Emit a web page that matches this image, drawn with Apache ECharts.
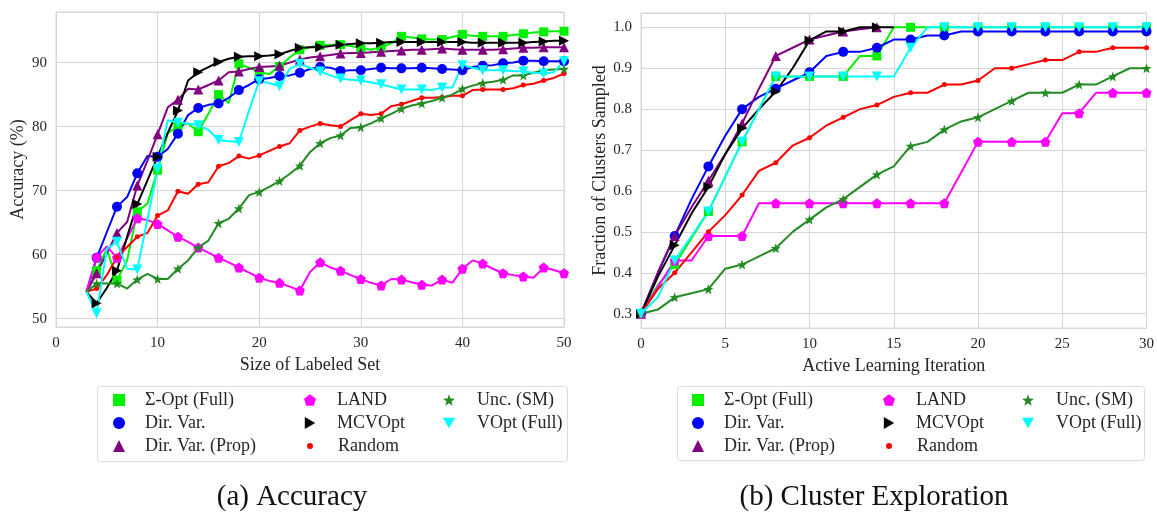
<!DOCTYPE html>
<html lang="en">
<head>
<meta charset="UTF-8">
<title>Accuracy and Cluster Exploration</title>
<style>
  html, body { margin: 0; padding: 0; background: #fff; }
  #main { width: 1157px; height: 512px; }
</style>
</head>
<body>
<div id="main"></div>
<script src="https://cdn.jsdelivr.net/npm/echarts@6/dist/echarts.min.js"></script>
<script>
// (a) accuracy vs size of labeled set
var sizeX = [3, 4, 5, 6, 7, 8, 9, 10, 11, 12, 13, 14, 15, 16, 17, 18, 19, 20, 21, 22, 23, 24, 25, 26,
  27, 28, 29, 30, 31, 32, 33, 34, 35, 36, 37, 38, 39, 40, 41, 42, 43, 44, 45, 46, 47, 48, 49, 50];
var sigmaAcc = [54.2, 57.5, 60.9, 56.0, 59.1, 66.7, 68.0, 73.2, 79.0, 80.0, 80.5, 79.2, 82.0, 85.0, 83.7, 89.8,
  89.2, 88.5, 88.2, 89.4, 90.8, 92.0, 92.4, 92.7, 92.8, 92.8, 92.6, 92.3, 92.0, 92.4, 93.0, 94.1,
  93.9, 93.7, 93.6, 93.6, 94.0, 94.4, 94.2, 94.1, 94.1, 94.1, 94.3, 94.5, 94.7, 94.8, 94.9, 94.9];
var dirVarAcc = [54.2, 59.5, 63.5, 67.5, 69.0, 72.7, 75.4, 75.3, 76.5, 78.9, 81.8, 82.9, 83.4, 83.6, 84.5, 85.7,
  86.5, 87.4, 87.6, 87.9, 88.0, 88.4, 89.0, 89.3, 89.2, 88.7, 88.8, 88.8, 89.0, 89.2, 89.1, 89.1,
  89.1, 89.2, 89.1, 89.0, 88.9, 88.8, 89.3, 89.5, 89.6, 89.9, 90.0, 90.3, 90.3, 90.2, 90.2, 90.2];
var dirVarPropAcc = [54.2, 57.1, 60.2, 63.4, 65.1, 70.8, 74.7, 78.8, 83.0, 84.2, 85.9, 85.8, 86.5, 87.2, 88.5, 88.6,
  89.0, 89.3, 89.4, 89.5, 90.0, 90.5, 90.8, 91.0, 91.2, 91.4, 91.5, 91.5, 91.6, 91.7, 91.8, 91.9,
  92.0, 92.0, 92.1, 92.2, 92.1, 92.0, 92.0, 92.0, 92.0, 92.1, 92.2, 92.3, 92.3, 92.4, 92.4, 92.4];
var landAcc = [54.2, 59.6, 61.3, 59.5, 62.5, 65.7, 65.4, 64.8, 63.8, 62.8, 62.0, 61.1, 60.3, 59.5, 58.8, 58.0,
  57.2, 56.4, 55.9, 55.6, 55.0, 54.4, 57.3, 58.8, 58.0, 57.5, 56.8, 56.2, 55.6, 55.2, 56.2, 56.1,
  55.7, 55.3, 55.2, 56.1, 55.6, 57.8, 59.1, 58.6, 57.8, 57.1, 56.8, 56.6, 56.4, 58.0, 57.6, 57.1];
var mcvAcc = [54.2, 52.4, 54.8, 57.5, 62.8, 67.9, 71.6, 75.3, 79.0, 82.5, 87.2, 88.5, 89.3, 90.1, 90.6, 90.9,
  91.0, 91.0, 91.1, 91.3, 91.8, 92.3, 92.4, 92.4, 92.6, 92.8, 92.9, 93.0, 93.0, 93.1, 93.2, 93.2,
  93.2, 93.2, 93.2, 93.2, 93.2, 93.2, 93.1, 93.1, 93.1, 93.1, 93.1, 93.1, 93.2, 93.3, 93.4, 93.4];
var randomAcc = [54.2, 54.7, 56.8, 59.6, 61.2, 62.8, 63.4, 66.1, 66.9, 69.9, 69.5, 71.0, 71.3, 73.8, 74.3, 75.4,
  75.0, 75.5, 76.2, 76.9, 77.4, 79.4, 80.0, 80.5, 80.2, 80.0, 81.0, 82.0, 81.8, 82.0, 83.2, 83.5,
  84.0, 84.5, 84.5, 84.6, 84.8, 84.8, 85.7, 85.8, 85.8, 85.8, 86.0, 86.5, 86.7, 87.2, 87.6, 88.3];
var uncAcc = [54.2, 55.5, 55.5, 55.5, 54.7, 56.1, 57.0, 56.2, 56.2, 57.8, 59.1, 61.1, 62.2, 64.9, 65.6, 67.2,
  69.3, 69.8, 70.6, 71.5, 72.6, 73.9, 76.0, 77.4, 78.2, 78.6, 79.8, 79.9, 80.5, 81.3, 82.0, 82.8,
  83.3, 83.6, 84.0, 84.5, 85.0, 85.9, 86.4, 86.8, 87.0, 87.3, 88.0, 88.0, 88.4, 88.8, 88.9, 89.0];
var vOptAcc = [54.2, 50.8, 60.9, 62.0, 57.8, 57.7, 65.5, 73.4, 81.0, 80.6, 80.5, 80.2, 79.5, 77.9, 77.7, 77.6,
  82.5, 87.1, 86.8, 86.3, 89.0, 89.8, 89.2, 88.6, 88.0, 87.5, 87.3, 87.2, 86.9, 86.6, 86.2, 85.8,
  85.8, 85.8, 85.7, 86.1, 86.1, 89.6, 89.2, 88.8, 88.8, 88.8, 88.7, 88.6, 88.4, 88.3, 88.5, 90.2];

// (b) fraction of clusters sampled vs active learning iteration
var iterX = [0, 1, 2, 3, 4, 5, 6, 7, 8, 9, 10, 11, 12, 13, 14, 15, 16, 17, 18, 19, 20,
  21, 22, 23, 24, 25, 26, 27, 28, 29, 30];
var sigmaExp = [0.30, 0.37, 0.42, 0.485, 0.55, 0.635, 0.72, 0.80, 0.88, 0.88, 0.88, 0.88, 0.88, 0.93, 0.93, 1.0,
  1.0, 1.0, 1.0, 1.0, 1.0, 1.0, 1.0, 1.0, 1.0, 1.0, 1.0, 1.0, 1.0, 1.0, 1.0];
var dirVarExp = [0.30, 0.40, 0.49, 0.58, 0.66, 0.735, 0.80, 0.83, 0.85, 0.87, 0.89, 0.93, 0.94, 0.94, 0.95, 0.97,
  0.97, 0.98, 0.98, 0.99, 0.99, 0.99, 0.99, 0.99, 0.99, 0.99, 0.99, 0.99, 0.99, 0.99, 0.99];
var dirVarPropExp = [0.30, 0.40, 0.49, 0.56, 0.625, 0.69, 0.765, 0.85, 0.93, 0.95, 0.97, 0.98, 0.99, 0.995, 1.0];
var landExp = [0.30, 0.365, 0.43, 0.43, 0.49, 0.49, 0.49, 0.57, 0.57, 0.57, 0.57, 0.57, 0.57, 0.57, 0.57, 0.57,
  0.57, 0.57, 0.57, 0.645, 0.72, 0.72, 0.72, 0.72, 0.72, 0.79, 0.79, 0.84, 0.84, 0.84, 0.84];
var mcvExp = [0.30, 0.39, 0.467, 0.545, 0.61, 0.69, 0.753, 0.80, 0.843, 0.90, 0.968, 0.99, 0.99, 1.0, 1.0, 1.0];
var randomExp = [0.30, 0.36, 0.40, 0.45, 0.50, 0.541, 0.59, 0.649, 0.669, 0.711, 0.73, 0.76, 0.78, 0.80, 0.81, 0.83,
  0.84, 0.84, 0.86, 0.86, 0.87, 0.90, 0.90, 0.91, 0.92, 0.92, 0.94, 0.94, 0.95, 0.95, 0.95];
var uncExp = [0.30, 0.31, 0.34, 0.35, 0.36, 0.41, 0.42, 0.44, 0.46, 0.50, 0.53, 0.56, 0.58, 0.61, 0.64, 0.66,
  0.71, 0.72, 0.75, 0.77, 0.78, 0.80, 0.82, 0.84, 0.84, 0.84, 0.86, 0.86, 0.88, 0.90, 0.90];
var vOptExp = [0.30, 0.34, 0.43, 0.49, 0.55, 0.635, 0.72, 0.80, 0.88, 0.88, 0.88, 0.88, 0.88, 0.88, 0.88, 0.88,
  0.95, 1.0, 1.0, 1.0, 1.0, 1.0, 1.0, 1.0, 1.0, 1.0, 1.0, 1.0, 1.0, 1.0, 1.0];

var names = ['Σ-Opt (Full)', 'Dir. Var.', 'Dir. Var. (Prop)', 'LAND', 'MCVOpt', 'Random', 'Unc. (SM)', 'VOpt (Full)'];

var FONT = 'Liberation Serif';
var TXT = '#262626';
var GRIDC = '#d6d6d6';

var STAR = 'path://M10,0L12.35,6.76L19.51,6.91L13.8,11.24L15.88,18.09L10,14L4.12,18.09L6.2,11.24L0.49,6.91L7.65,6.76Z';
var PENT = 'path://M10,0L19.51,6.91L15.88,18.09L4.12,18.09L0.49,6.91Z';
var RTRI = 'path://M0,0L17.3,10L0,20Z';
var DTRI = 'path://M0,0L20,0L10,17.3Z';

// marker, size, color per method
var marks = {
  'Σ-Opt (Full)': ['rect', 9, '#00f000'],
  'Dir. Var.': ['circle', 10, '#0000ff'],
  'Dir. Var. (Prop)': ['triangle', 10, '#800080'],
  'LAND': [PENT, 10, '#ff00ff'],
  'MCVOpt': [RTRI, 10, '#000000'],
  'Random': ['circle', 5, '#ff0000'],
  'Unc. (SM)': [STAR, 10, '#228b22'],
  'VOpt (Full)': [DTRI, 10, '#00ffff']
};

function line(name, xs, ys, idx) {
  var m = marks[name];
  return {
    name: name, type: 'line', xAxisIndex: idx, yAxisIndex: idx,
    data: ys.map(function (v, i) { return [xs[i], v]; }),
    symbol: m[0],
    symbolSize: function (v) { return v[0] % 2 === 0 ? m[1] : 0; },
    lineStyle: { width: 2, color: m[2] },
    itemStyle: { color: m[2] },
    emphasis: { disabled: true },
    silent: true
  };
}

var series = [
  line(names[0], sizeX, sigmaAcc, 0),
  line(names[1], sizeX, dirVarAcc, 0),
  line(names[2], sizeX, dirVarPropAcc, 0),
  line(names[3], sizeX, landAcc, 0),
  line(names[4], sizeX, mcvAcc, 0),
  line(names[5], sizeX, randomAcc, 0),
  line(names[6], sizeX, uncAcc, 0),
  line(names[7], sizeX, vOptAcc, 0),
  line(names[0], iterX, sigmaExp, 1),
  line(names[1], iterX, dirVarExp, 1),
  line(names[2], iterX.slice(0, dirVarPropExp.length), dirVarPropExp, 1),
  line(names[3], iterX, landExp, 1),
  line(names[4], iterX.slice(0, mcvExp.length), mcvExp, 1),
  line(names[5], iterX, randomExp, 1),
  line(names[6], iterX, uncExp, 1),
  line(names[7], iterX, vOptExp, 1)
];

function legendCol(items, left, top, size, pad) {
  return {
    left: left, top: top, orient: 'vertical', itemGap: 5,
    itemWidth: size, itemHeight: size, selectedMode: false,
    padding: 0,
    data: items.map(function (n) { return { name: n, icon: marks[n][0] }; }),
    textStyle: { fontFamily: FONT, fontSize: 18, color: TXT, padding: [0, 0, 0, pad] }
  };
}

var legends = [];
[0, 579].forEach(function (dx) {
  legends.push(legendCol(names.slice(0, 3), 113 + dx, 391, 12, 15));
  legends.push(legendCol(names.slice(3, 5), 304 + dx, 391, 12, 16));
  legends.push(legendCol(['Random'], 307 + dx, 437, 6, 20));
  legends.push(legendCol(names.slice(6, 8), 443 + dx, 391, 12, 17));
});

function xAxis(idx, max, interval, name) {
  return {
    type: 'value', gridIndex: idx, min: 0, max: max, interval: interval,
    name: name, nameLocation: 'middle', nameGap: 22,
    nameTextStyle: { fontFamily: FONT, fontSize: 18, color: TXT },
    axisLine: { show: false }, axisTick: { show: false },
    axisLabel: { fontFamily: FONT, fontSize: 15, color: TXT, margin: 9 },
    splitLine: { lineStyle: { color: GRIDC, width: 1 } }
  };
}

function yAxis(idx, min, max, split, name, gap, fmt) {
  return {
    type: 'value', gridIndex: idx, min: min, max: max, splitNumber: split,
    name: name, nameLocation: 'middle', nameGap: gap,
    nameTextStyle: { fontFamily: FONT, fontSize: 18, color: TXT },
    axisLine: { show: false }, axisTick: { show: false },
    axisLabel: { fontFamily: FONT, fontSize: 15, color: TXT, margin: 9,
      showMinLabel: false, showMaxLabel: false, formatter: fmt },
    splitLine: { lineStyle: { color: GRIDC, width: 1 } }
  };
}

var option = {
  animation: false,
  backgroundColor: '#fff',
  grid: [
    { left: 56, top: 12, width: 508, height: 315, show: true, borderColor: GRIDC, borderWidth: 1 },
    { left: 641, top: 13, width: 506, height: 315, show: true, borderColor: GRIDC, borderWidth: 1 }
  ],
  xAxis: [
    xAxis(0, 50, 10, 'Size of Labeled Set'),
    xAxis(1, 30, 5, 'Active Learning Iteration')
  ],
  yAxis: [
    yAxis(0, 48.7, 97.9, 5, 'Accuracy (%)', 29, function (v) { return Math.round(v); }),
    yAxis(1, 0.265, 1.035, 8, 'Fraction of Clusters Sampled', 31, function (v) { return v.toFixed(1); })
  ],
  legend: legends,
  graphic: [
    { type: 'rect', left: 97, top: 386, shape: { width: 470, height: 75, r: 3 },
      style: { fill: '#fff', stroke: '#dcdcdc', lineWidth: 1 }, z: -1 },
    { type: 'rect', left: 677, top: 386, shape: { width: 467, height: 74, r: 3 },
      style: { fill: '#fff', stroke: '#dcdcdc', lineWidth: 1 }, z: -1 },
    { type: 'text', x: 292, y: 497,
      style: { text: '(a) Accuracy', fontFamily: FONT, fontSize: 29, fill: '#111', align: 'center', verticalAlign: 'middle' } },
    { type: 'text', x: 874, y: 497,
      style: { text: '(b) Cluster Exploration', fontFamily: FONT, fontSize: 29, fill: '#111', align: 'center', verticalAlign: 'middle' } }
  ],
  series: series
};

var chart = echarts.init(document.getElementById('main'), null, { renderer: 'canvas' });
chart.setOption(option);
</script>
</body>
</html>
